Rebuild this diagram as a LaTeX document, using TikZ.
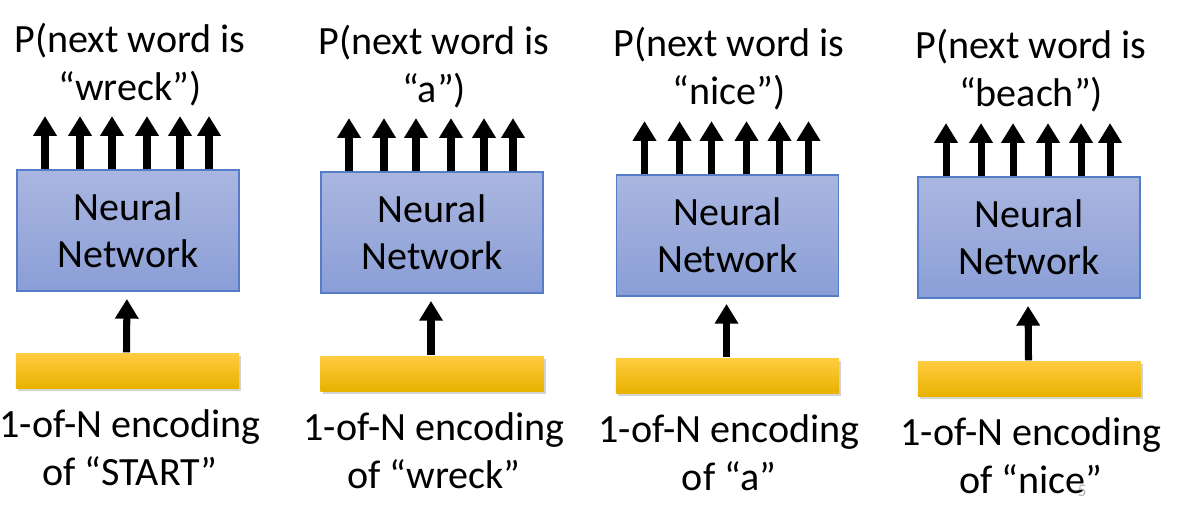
\documentclass[tikz,border=0pt]{standalone}
\usepackage{fontspec}
\setmainfont{Carlito}
\usetikzlibrary{arrows.meta,calc,shadows}
\definecolor{nnTop}{RGB}{170,182,224}
\definecolor{nnBot}{RGB}{138,158,214}
\definecolor{nnLine}{RGB}{86,124,200}
\definecolor{barTop}{RGB}{255,204,64}
\definecolor{barMid}{RGB}{255,194,0}
\definecolor{barBot}{RGB}{232,178,0}
\begin{document}
\begin{tikzpicture}[x=0.01cm, y=-0.01cm, every node/.style={font=\fontsize{11.4}{13.4}\selectfont}]
\tikzset{nnbox/.style={draw=nnLine, line width=0.5pt, top color=nnTop, bottom color=nnBot, minimum width=2.22cm, minimum height=1.21cm, inner sep=0pt, align=center},
  onehot/.style={top color=barTop, middle color=barMid, bottom color=barBot, minimum width=2.23cm, minimum height=0.35cm, inner sep=0pt, drop shadow={shadow xshift=0.6pt, shadow yshift=-0.8pt, opacity=0.35}},
  lbl/.style={align=center, anchor=base, inner sep=0pt},
  outarrow/.style={line width=2pt, -{Triangle[width=6.4pt,length=5.6pt]}}}
\useasboundingbox (0,0) rectangle (1177,514);
% panel 1
\node[nnbox] (nn1) at (128,230.5) {Neural\\Network};
\node[onehot] (in1) at (127.5,370.5) {};
\node[lbl] (p1) at (130,100) {P(next word is\\“wreck”)};
\node[lbl] (e1) at (130,485) {1-of-N encoding\\of “START”};
% panel 2
\node[nnbox] (nn2) at (432,232.5) {Neural\\Network};
\node[onehot] (in2) at (432,373.5) {};
\node[lbl] (p2) at (434,102) {P(next word is\\“a”)};
\node[lbl] (e2) at (434,488) {1-of-N encoding\\of “wreck”};
% panel 3
\node[nnbox] (nn3) at (727.5,235.5) {Neural\\Network};
\node[onehot] (in3) at (727.5,375.5) {};
\node[lbl] (p3) at (729,104) {P(next word is\\“nice”)};
\node[lbl] (e3) at (729,490) {1-of-N encoding\\of “a”};
% panel 4
\node[nnbox] (nn4) at (1029,237.5) {Neural\\Network};
\node[onehot] (in4) at (1029.5,378.5) {};
\node[lbl] (p4) at (1031,106) {P(next word is\\“beach”)};
\node[lbl] (e4) at (1031,493) {1-of-N encoding\\of “nice”};
% arrows
\foreach \i in {1,...,4} {
  \foreach \dx in {-83,-48,-16,19,52,81}
    \draw[outarrow] ($(nn\i.north)+(\dx,0)$) -- ++(0,-53);
  \draw[outarrow, shorten >=2pt] ($(in\i.north)+(-1,0)$) -- ($(nn\i.south)+(-1,0)$);
}
\node[font=\fontsize{5}{6}\selectfont, text=gray!60] (pg) at (1082,491) {5};
\end{tikzpicture}
\end{document}
